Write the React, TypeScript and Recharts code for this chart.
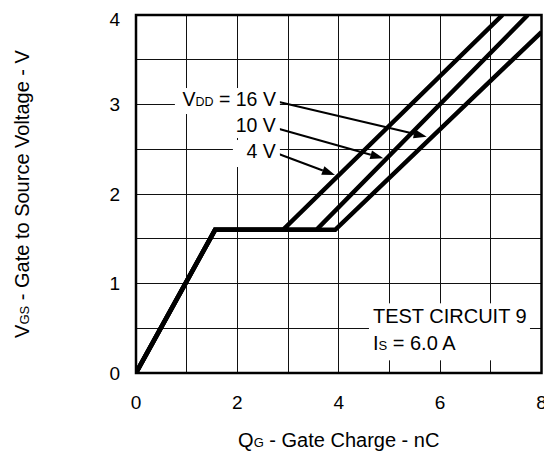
import React from 'react';
import {
  LineChart, Line, XAxis, YAxis, CartesianGrid, ReferenceArea, ReferenceDot, ReferenceLine,
} from 'recharts';

// Gate charge (nC) and gate-source voltage (V) for each drain voltage curve
const charge4V = [0, 1.56, 2.9, 7.23];
const volts4V = [0, 1.6, 1.6, 4.0];
const charge10V = [0, 1.56, 3.56, 7.73];
const volts10V = [0, 1.6, 1.6, 4.0];
const charge16V = [0, 1.56, 3.93, 8.0];
const volts16V = [0, 1.6, 1.6, 3.81];

const xTicks = [0, 1, 2, 3, 4, 5, 6, 7, 8];
const yTicks = [0, 0.5, 1, 1.5, 2, 2.5, 3, 3.5, 4];

// Annotation anchors (data coords) and arrows
const labelAnchorsQ = [2.76, 2.76, 2.76];
const labelAnchorsV = [2.983, 2.693, 2.402];
const arrowStart = [
  { x: 2.8, y: 3.03 },
  { x: 2.776, y: 2.734 },
  { x: 2.776, y: 2.455 },
];
const arrowEnd = [
  { x: 5.735, y: 2.64 },
  { x: 4.879, y: 2.399 },
  { x: 3.926, y: 2.212 },
];
const testAnchor = { x: 4.675, y: 0.555 };

const zip = (q: number[], v: number[]) => q.map((qq, i) => ({ q: qq, v: v[i] }));
const data4 = zip(charge4V, volts4V);
const data10 = zip(charge10V, volts10V);
const data16 = zip(charge16V, volts16V);

const FONT = '"Liberation Sans", Arial, Helvetica, sans-serif';

const ArrowShape = (p: any) => {
  const { x1, y1, x2, y2 } = p;
  const ang = Math.atan2(y2 - y1, x2 - x1);
  const L = 13;
  const W = 4.5;
  const bx = x2 - L * Math.cos(ang);
  const by = y2 - L * Math.sin(ang);
  const px = -Math.sin(ang);
  const py = Math.cos(ang);
  return (
    <g>
      <line x1={x1} y1={y1} x2={bx} y2={by} stroke="#000" strokeWidth={2} />
      <polygon
        points={`${x2},${y2} ${bx + px * W},${by + py * W} ${bx - px * W},${by - py * W}`}
        fill="#000"
      />
    </g>
  );
};

const makeLabel = (main: string, sub: string, rest: string, box: number[]) => (p: any) => (
  <g>
    <rect x={p.cx + box[0]} y={p.cy + box[1]} width={box[2]} height={box[3]} fill="#fff" />
    <text x={p.cx} y={p.cy} textAnchor="end" fontSize={19.5} fontFamily={FONT} fill="#000">
      {main}
      {sub ? <tspan fontSize={12.5}>{sub}</tspan> : null}
      {rest}
    </text>
  </g>
);

const TestBox = (p: any) => (
  <g>
    <rect x={p.cx - 4} y={p.cy - 20} width={161} height={57} fill="#fff" />
    <text x={p.cx} y={p.cy} fontSize={20} fontFamily={FONT} fill="#000">TEST CIRCUIT 9</text>
    <text x={p.cx} y={p.cy + 26.7} fontSize={20} fontFamily={FONT} fill="#000">
      I<tspan fontSize={13}>S</tspan> = 6.0 A
    </text>
  </g>
);

const XTitle = (p: any) => {
  const vb = p.viewBox || {};
  return (
    <text x={vb.x + vb.width / 2} y={vb.y + 74} textAnchor="middle" fontSize={20} fontFamily={FONT} fill="#000">
      Q<tspan fontSize={13}>G</tspan> - Gate Charge - nC
    </text>
  );
};

const YTitle = (p: any) => {
  const vb = p.viewBox || {};
  const x = vb.x + 21;
  const y = vb.y + vb.height / 2;
  return (
    <text x={x} y={y} transform={`rotate(-90, ${x}, ${y})`} textAnchor="middle" fontSize={20} fontFamily={FONT} fill="#000">
      V<tspan fontSize={13}>GS</tspan> - Gate to Source Voltage - V
    </text>
  );
};

const labelShapes = [
  makeLabel('V', 'DD', ' = 16 V', [-101, -18, 105, 26]),
  makeLabel('10 V', '', '', [-45, -18, 49, 24]),
  makeLabel('4 V', '', '', [-43, -18, 47, 27]),
];

export default function App() {
  return (
    <LineChart
      width={544}
      height={451}
      margin={{ top: 7, right: 10.5, left: 0, bottom: 0 }}
      style={{ fontFamily: FONT }}
    >
      <CartesianGrid stroke="#111" strokeWidth={1} shapeRendering="crispEdges" horizontalValues={yTicks} verticalValues={xTicks} />
      <XAxis
        type="number"
        dataKey="q"
        domain={[0, 8]}
        ticks={xTicks}
        tickFormatter={(v: number) => (v % 2 === 0 ? String(v) : '')}
        axisLine={false}
        tickLine={false}
        tickSize={0}
        tickMargin={23}
        height={86}
        tick={{ fontSize: 19, fill: '#000', fontFamily: FONT }}
        label={{ content: XTitle }}
        allowDataOverflow
      />
      <YAxis
        type="number"
        domain={[0, 4]}
        ticks={yTicks}
        tickFormatter={(v: number) => (Number.isInteger(v) ? String(v) : '')}
        axisLine={false}
        tickLine={false}
        tickSize={0}
        tickMargin={16}
        width={128}
        tick={{ fontSize: 19, fill: '#000', fontFamily: FONT }}
        label={{ content: YTitle }}
        allowDataOverflow
      />
      {labelShapes.map((shape, i) => (
        <ReferenceDot key={'l' + i} x={labelAnchorsQ[i]} y={labelAnchorsV[i]} r={1} shape={shape} />
      ))}
      <ReferenceDot x={testAnchor.x} y={testAnchor.y} r={1} shape={TestBox} />
      {arrowStart.map((s, i) => (
        <ReferenceLine key={'a' + i} segment={[s, arrowEnd[i]]} shape={ArrowShape} />
      ))}
      <Line data={data4} dataKey="v" stroke="#000" strokeWidth={4.5} dot={false} isAnimationActive={false} />
      <Line data={data10} dataKey="v" stroke="#000" strokeWidth={4.5} dot={false} isAnimationActive={false} />
      <Line data={data16} dataKey="v" stroke="#000" strokeWidth={4.5} dot={false} isAnimationActive={false} />
      <ReferenceArea x1={0} x2={8} y1={0} y2={4} fill="none" fillOpacity={0} stroke="#000" strokeWidth={2.5} />
    </LineChart>
  );
}
